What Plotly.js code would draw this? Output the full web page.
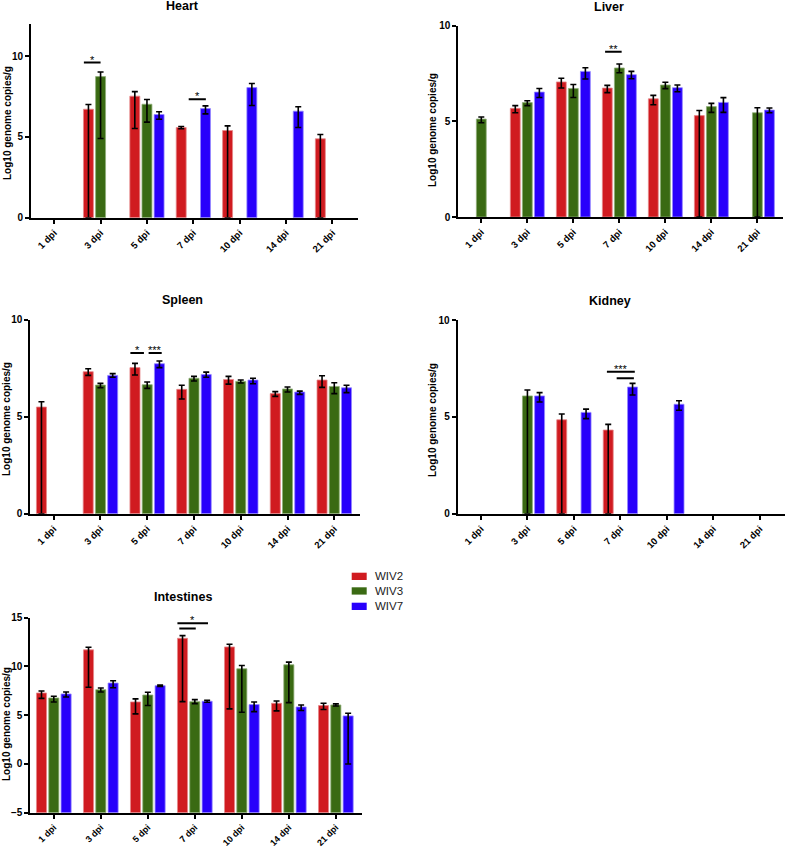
<!DOCTYPE html>
<html>
<head>
<meta charset="utf-8">
<script src="https://cdn.plot.ly/plotly-3.0.1.min.js"></script>
<style>html,body{margin:0;padding:0;background:#fff;}#chart{width:787px;height:849px;}</style>
</head>
<body>
<div id="chart"></div>
<script>
// ---------------- DATA ----------------
const categories = ["1 dpi", "3 dpi", "5 dpi", "7 dpi", "10 dpi", "14 dpi", "21 dpi"];
const seriesNames = ["WIV2", "WIV3", "WIV7"];
const panelTitles = ["Heart", "Liver", "Spleen", "Kidney", "Intestines"];
const yAxisTitle = "Log10 genome copies/g";

// Heart
const heartWIV2 = [null, 6.72, 7.53, 5.59, 5.40, null, 4.89];
const heartWIV2Hi = [null, 7.01, 7.81, 5.65, 5.69, null, 5.15];
const heartWIV2Lo = [null, 0, 5.53, 5.51, 0, null, 0];
const heartWIV3 = [null, 8.74, 7.03, null, null, null, null];
const heartWIV3Hi = [null, 9.03, 7.32, null, null, null, null];
const heartWIV3Lo = [null, 4.91, 5.92, null, null, null, null];
const heartWIV7 = [null, null, 6.39, 6.76, 8.06, 6.60, null];
const heartWIV7Hi = [null, null, 6.56, 6.93, 8.31, 6.87, null];
const heartWIV7Lo = [null, null, 6.10, 6.43, 6.95, 5.59, null];

// Liver
const liverWIV2 = [null, 5.68, 7.06, 6.74, 6.18, 5.30, null];
const liverWIV2Hi = [null, 5.82, 7.25, 6.88, 6.36, 5.57, null];
const liverWIV2Lo = [null, 5.45, 6.74, 6.50, 5.87, 0, null];
const liverWIV3 = [5.12, 5.98, 6.72, 7.79, 6.90, 5.77, 5.45];
const liverWIV3Hi = [5.23, 6.08, 6.93, 8.00, 7.04, 5.94, 5.71];
const liverWIV3Lo = [4.93, 5.82, 6.25, 7.54, 6.71, 5.47, 0];
const liverWIV7 = [null, 6.53, 7.61, 7.44, 6.76, 5.99, 5.59];
const liverWIV7Hi = [null, 6.72, 7.80, 7.61, 6.90, 6.24, 5.70];
const liverWIV7Lo = [null, 6.25, 7.21, 7.23, 6.55, 5.47, 5.45];

// Spleen
const spleenWIV2 = [5.50, 7.32, 7.53, 6.41, 6.92, 6.19, 6.89];
const spleenWIV2Hi = [5.77, 7.47, 7.75, 6.62, 7.08, 6.29, 7.11];
const spleenWIV2Lo = [0, 7.13, 7.15, 5.91, 6.68, 6.05, 6.51];
const spleenWIV3 = [null, 6.63, 6.65, 6.98, 6.82, 6.43, 6.56];
const spleenWIV3Hi = [null, 6.72, 6.79, 7.08, 6.89, 6.53, 6.75];
const spleenWIV3Lo = [null, 6.49, 6.46, 6.84, 6.74, 6.27, 6.19];
const spleenWIV7 = [null, 7.13, 7.73, 7.18, 6.89, 6.27, 6.49];
const spleenWIV7Hi = [null, 7.22, 7.87, 7.30, 6.98, 6.32, 6.62];
const spleenWIV7Lo = [null, 7.03, 7.53, 7.03, 6.70, 6.15, 6.24];

// Kidney
const kidneyWIV2 = [null, null, 4.85, 4.32, null, null, null];
const kidneyWIV2Hi = [null, null, 5.15, 4.61, null, null, null];
const kidneyWIV2Lo = [null, null, 0, 0, null, null, null];
const kidneyWIV3 = [null, 6.08, null, null, null, null, null];
const kidneyWIV3Hi = [null, 6.39, null, null, null, null, null];
const kidneyWIV3Lo = [null, 0, null, null, null, null, null];
const kidneyWIV7 = [null, 6.08, 5.23, 6.54, 5.65, null, null];
const kidneyWIV7Hi = [null, 6.25, 5.40, 6.73, 5.83, null, null];
const kidneyWIV7Lo = [null, 5.77, 4.91, 6.13, 5.34, null, null];

// Intestines
const intestWIV2 = [7.28, 11.70, 6.36, 12.89, 12.00, 6.22, 5.99];
const intestWIV2Hi = [7.48, 11.97, 6.67, 13.16, 12.28, 6.46, 6.22];
const intestWIV2Lo = [6.73, 7.86, 5.14, 6.39, 5.65, 5.44, 5.58];
const intestWIV3 = [6.77, 7.62, 7.07, 6.39, 9.76, 10.17, 6.05];
const intestWIV3Hi = [6.94, 7.79, 7.35, 6.60, 10.10, 10.44, 6.16];
const intestWIV3Lo = [6.36, 7.38, 5.99, 6.19, 5.31, 6.29, 5.95];
const intestWIV7 = [7.18, 8.30, 8.03, 6.43, 6.09, 5.85, 4.93];
const intestWIV7Hi = [7.38, 8.54, 8.10, 6.53, 6.36, 6.05, 5.20];
const intestWIV7Lo = [6.87, 7.82, 7.96, 6.33, 5.37, 5.48, 0];

// significance marks: [panelIndex, fromCategoryIdx, toCategoryIdx, yLevel, label]
const sigLines = [
  [0, 0.64, 1.00, 9.61, "*"],
  [0, 2.90, 3.27, 7.34, "*"],
  [1, 2.69, 3.05, 8.64, "**"],
  [2, 1.64, 1.93, 8.28, "*"],
  [2, 2.03, 2.31, 8.28, "***"],
  [3, 2.71, 3.31, 7.33, "***"],
  [3, 2.92, 3.29, 6.99, ""],
  [4, 2.63, 3.28, 14.42, "*"],
  [4, 2.67, 3.02, 13.88, ""]
];

// ---------------- BUILD ----------------
const W = 787, H = 849;
const px = x => x / W;
const py = y => 1 - y / H;
const FONT = "Liberation Sans, Arial, Helvetica, sans-serif";
const colors = ["#d01b20", "#3a6a13", "#2800fb"];
const edge = ["#e6888a", "#8fae78", "#9488ff"];

const panels = [
  {vals: [heartWIV2, heartWIV3, heartWIV7], hi: [heartWIV2Hi, heartWIV3Hi, heartWIV7Hi], lo: [heartWIV2Lo, heartWIV3Lo, heartWIV7Lo],
   xd: [31, 358], yd: [24, 217.7], yr: [0, 12], base: 0, title: [182.5, 6], ytitle: [7, 123], xfs: 9.5},
  {vals: [liverWIV2, liverWIV3, liverWIV7], hi: [liverWIV2Hi, liverWIV3Hi, liverWIV7Hi], lo: [liverWIV2Lo, liverWIV3Lo, liverWIV7Lo],
   xd: [458.3, 782.7], yd: [25.7, 217], yr: [0, 10], base: 0, title: [609, 7], ytitle: [433, 130], xfs: 9.5},
  {vals: [spleenWIV2, spleenWIV3, spleenWIV7], hi: [spleenWIV2Hi, spleenWIV3Hi, spleenWIV7Hi], lo: [spleenWIV2Lo, spleenWIV3Lo, spleenWIV7Lo],
   xd: [30.3, 360], yd: [319.7, 513.7], yr: [0, 10], base: 0, title: [182.7, 300], ytitle: [7, 419], xfs: 9.5},
  {vals: [kidneyWIV2, kidneyWIV3, kidneyWIV7], hi: [kidneyWIV2Hi, kidneyWIV3Hi, kidneyWIV7Hi], lo: [kidneyWIV2Lo, kidneyWIV3Lo, kidneyWIV7Lo],
   xd: [457.7, 785.4], yd: [320, 513.7], yr: [0, 10], base: 0, title: [610, 300.7], ytitle: [433, 420], xfs: 9.5},
  {vals: [intestWIV2, intestWIV3, intestWIV7], hi: [intestWIV2Hi, intestWIV3Hi, intestWIV7Hi], lo: [intestWIV2Lo, intestWIV3Lo, intestWIV7Lo],
   xd: [30.3, 361.7], yd: [617.7, 812.7], yr: [-5, 15], base: -5, title: [182.7, 597.3], ytitle: [6, 724], xfs: 9}
];

const traces = [];
const layout = {
  width: W, height: H,
  margin: {l: 0, r: 0, t: 0, b: 0, pad: 0},
  paper_bgcolor: "#fff", plot_bgcolor: "rgba(0,0,0,0)",
  barmode: "group", bargap: 0.215, bargroupgap: 0.18,
  showlegend: false, hovermode: false,
  font: {family: FONT, color: "#000"},
  shapes: [], annotations: []
};

panels.forEach((p, i) => {
  const n = i + 1;
  const xk = n === 1 ? "x" : "x" + n;
  const yk = n === 1 ? "y" : "y" + n;
  for (let s = 0; s < 3; s++) {
    const v = p.vals[s];
    traces.push({
      type: "bar", name: seriesNames[s],
      x: categories,
      y: v.map(d => d == null ? null : d - p.base),
      base: p.base,
      xaxis: xk, yaxis: yk,
      marker: {color: colors[s], line: {color: edge[s], width: 0.8}},
      error_y: {
        type: "data", symmetric: false,
        array: v.map((d, k) => d == null ? null : p.hi[s][k] - d),
        arrayminus: v.map((d, k) => d == null ? null : d - p.lo[s][k]),
        color: "#000", thickness: 1.6, width: 3
      },
      showlegend: false, cliponaxis: false
    });
  }
  layout["xaxis" + (n === 1 ? "" : n)] = {
    domain: [px(p.xd[0]), px(p.xd[1])], anchor: yk,
    type: "category", categoryorder: "array", categoryarray: categories,
    range: [-0.5, 6.55], showline: true, linewidth: 2, linecolor: "#000",
    ticks: "outside", ticklen: 4, tickwidth: 2, tickcolor: "#000",
    tickangle: -45, tickfont: {family: FONT, size: p.xfs, weight: "bold", color: "#000"},
    showgrid: false, zeroline: false, fixedrange: true
  };
  layout["yaxis" + (n === 1 ? "" : n)] = {
    domain: [py(p.yd[1]), py(p.yd[0])], anchor: xk,
    range: p.yr, tick0: 0, dtick: 5,
    showline: true, linewidth: 2, linecolor: "#000",
    ticks: "outside", ticklen: 4, tickwidth: 2, tickcolor: "#000",
    tickfont: {family: FONT, size: 10, weight: "bold", color: "#000"},
    showgrid: false, zeroline: false, fixedrange: true
  };
  layout.annotations.push({
    xref: "paper", yref: "paper", x: px(p.title[0]), y: py(p.title[1]),
    xanchor: "center", yanchor: "middle", showarrow: false,
    text: panelTitles[i], font: {family: FONT, size: 12.5, weight: "bold", color: "#000"}
  });
  layout.annotations.push({
    xref: "paper", yref: "paper", x: px(p.ytitle[0]), y: py(p.ytitle[1]),
    xanchor: "center", yanchor: "middle", showarrow: false, textangle: -90,
    text: yAxisTitle, font: {family: FONT, size: 10, weight: "bold", color: "#000"}
  });
});

sigLines.forEach(([pi, a, b, yv, lab]) => {
  const n = pi + 1;
  const xr = n === 1 ? "x" : "x" + n;
  const yr = n === 1 ? "y" : "y" + n;
  layout.shapes.push({type: "line", xref: xr, yref: yr, x0: a, x1: b, y0: yv, y1: yv,
    line: {color: "#000", width: 2}});
  if (lab) {
    layout.annotations.push({xref: xr, yref: yr, x: (a + b) / 2, y: yv,
      xanchor: "center", yanchor: "bottom", yshift: -5, showarrow: false,
      text: lab, font: {family: FONT, size: 11, color: "#000"}});
  }
});

// legend drawn as swatches + text
const legTop = [572.7, 587.3, 602.7];
seriesNames.forEach((nm, s) => {
  layout.shapes.push({type: "rect", xref: "paper", yref: "paper",
    x0: px(351.7), x1: px(366.7), y0: py(legTop[s] + 7.3), y1: py(legTop[s]),
    fillcolor: colors[s], line: {width: 0}});
  layout.annotations.push({xref: "paper", yref: "paper", x: px(373), y: py(legTop[s] + 3.7),
    xanchor: "left", yanchor: "middle", showarrow: false, text: nm,
    font: {family: FONT, size: 11.5, color: "#222"}});
});

Plotly.newPlot("chart", traces, layout, {staticPlot: true, displayModeBar: false});
</script>
</body>
</html>
